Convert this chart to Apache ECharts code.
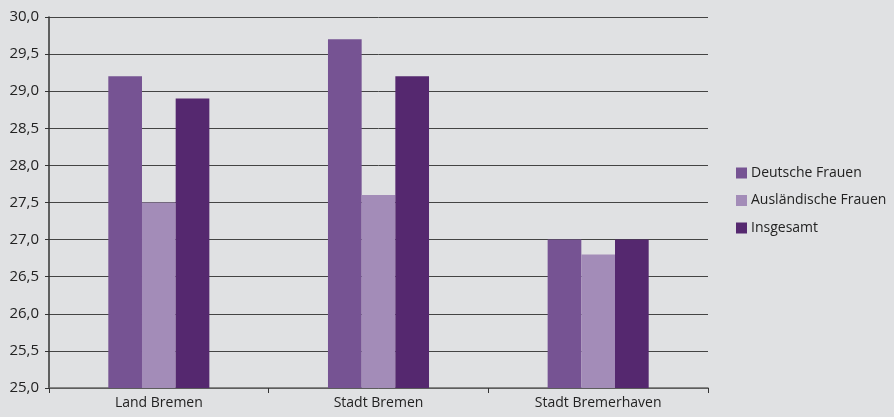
<!DOCTYPE html>
<html>
<head>
<meta charset="utf-8">
<script src="https://cdn.jsdelivr.net/npm/echarts@6/dist/echarts.min.js"></script>
<style>
  html, body { margin: 0; padding: 0; background: #e0e1e3; }
  #chart { width: 894px; height: 417px; }
</style>
</head>
<body>
<div id="chart"></div>
<script>
// Regions shown on the category axis
const categories = ['Land Bremen', 'Stadt Bremen', 'Stadt Bremerhaven'];

// Series values per region
const deutscheFrauen = [29.2, 29.7, 27.0];
const auslaendischeFrauen = [27.5, 27.6, 26.8];
const insgesamt = [28.9, 29.2, 27.0];

const seriesNames = ['Deutsche Frauen', 'Ausländische Frauen', 'Insgesamt'];
const seriesColors = ['#765393', '#a38cb8', '#55286f'];

// Value axis range
const yMin = 25, yMax = 30, yStep = 0.5;

const font = '"Open Sans", "Noto Sans", sans-serif';

const chart = echarts.init(document.getElementById('chart'));
chart.setOption({
  backgroundColor: '#e0e1e3',
  animation: false,
  textStyle: { fontFamily: font },
  grid: { left: 49, right: 186, top: 17, bottom: 29 },
  legend: {
    orient: 'vertical',
    left: 731,
    top: 161,
    icon: 'rect',
    itemWidth: 11,
    itemHeight: 11,
    itemGap: 13.5,
    textStyle: { fontFamily: font, fontSize: 14, color: '#222', padding: [0, 0, 0, -1] },
    data: seriesNames
  },
  xAxis: {
    type: 'category',
    data: categories,
    axisLine: { lineStyle: { color: '#666', width: 1.5 } },
    axisTick: { show: true, length: 5, inside: false, lineStyle: { color: '#333' } },
    axisLabel: { fontFamily: font, fontSize: 14, color: '#222', margin: 8 }
  },
  yAxis: {
    type: 'value',
    min: yMin,
    max: yMax,
    interval: yStep,
    axisLine: { show: true, lineStyle: { color: '#333', width: 1.5 } },
    axisTick: { show: true, length: 4, lineStyle: { color: '#333' } },
    splitLine: { lineStyle: { color: '#444', width: 1 } },
    axisLabel: {
      fontFamily: font, fontSize: 15, color: '#222', margin: 10,
      formatter: v => v.toFixed(1).replace('.', ',')
    }
  },
  series: [
    { name: seriesNames[0], type: 'bar', data: deutscheFrauen, itemStyle: { color: seriesColors[0] }, barGap: '0%', barCategoryGap: '54%' },
    { name: seriesNames[1], type: 'bar', data: auslaendischeFrauen, itemStyle: { color: seriesColors[1] }, barGap: '0%', barCategoryGap: '54%' },
    { name: seriesNames[2], type: 'bar', data: insgesamt, itemStyle: { color: seriesColors[2] }, barGap: '0%', barCategoryGap: '54%' }
  ]
});
</script>
</body>
</html>
